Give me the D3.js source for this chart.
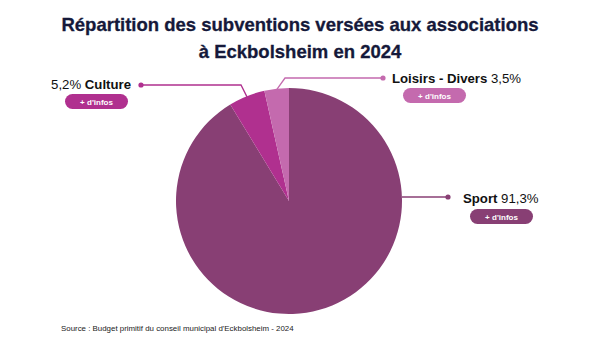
<!DOCTYPE html>
<html><head><meta charset="utf-8">
<script src="https://cdn.jsdelivr.net/npm/d3@7"></script>
<style>body{margin:0;background:#fff}svg{display:block}</style>
</head><body>
<script>
const categories = ["Sport", "Culture", "Loisirs - Divers"];
const values = [91.3, 5.2, 3.5];
const valueLabels = ["91,3%", "5,2%", "3,5%"];
const colors = ["#883f74", "#b0308f", "#c46aae"];
const titleLines = ["Répartition des subventions versées aux associations", "à Eckbolsheim en 2024"];
const sourceText = "Source : Budget primitif du conseil municipal d'Eckbolsheim - 2024";
const buttonText = "+ d'infos";

const W = 600, H = 338;
const svg = d3.select("body").append("svg").attr("width", W).attr("height", H);
const font = "Liberation Sans, Arial, sans-serif";

svg.selectAll("text.title").data(titleLines).join("text")
  .attr("x", 300).attr("y", (d, i) => 31 + i * 27)
  .attr("text-anchor", "middle").attr("font-family", font)
  .attr("font-weight", "bold").attr("font-size", 18.5).attr("fill", "#15193a")
  .attr("stroke", "#15193a").attr("stroke-width", 0.3)
  .text(d => d);

const cx = 289, cy = 201, R = 113;
const g = svg.append("g").attr("transform", `translate(${cx},${cy})`);
const pie = d3.pie().sort(null).value(d => d)(values);
const arc = d3.arc().innerRadius(0).outerRadius(R);
g.selectAll("path").data(pie).join("path")
  .attr("d", arc).attr("fill", (d, i) => colors[i]);

function edge(d, r) {
  const a = (d.startAngle + d.endAngle) / 2;
  return [cx + r * Math.sin(a), cy - r * Math.cos(a)];
}
const eC = edge(pie[1], R - 1), eL = edge(pie[2], R - 1);
const leaders = [
  {pts: [[cx + R, 197], [448, 197]], c: colors[0]},
  {pts: [eC, [241, 85], [141, 85]], c: colors[1]},
  {pts: [eL, [285, 78], [383, 78]], c: colors[2]}
];
const line = d3.line();
leaders.forEach(l => {
  svg.append("path").attr("d", line(l.pts)).attr("fill", "none")
    .attr("stroke", l.c).attr("stroke-width", 1.3);
  const p = l.pts[l.pts.length - 1];
  svg.append("circle").attr("cx", p[0]).attr("cy", p[1]).attr("r", 2.6).attr("fill", l.c);
});

function label(x, y, anchor, parts) {
  const t = svg.append("text").attr("x", x).attr("y", y).attr("text-anchor", anchor)
    .attr("font-family", font).attr("font-size", 13.2).attr("fill", "#111");
  parts.forEach(p => t.append("tspan").attr("font-weight", p.b ? "bold" : "normal").text(p.t));
}
label(131, 89, "end", [{t: valueLabels[1] + " "}, {t: categories[1], b: true}]);
label(392, 83, "start", [{t: categories[2], b: true}, {t: " " + valueLabels[2]}]);
label(463, 203, "start", [{t: categories[0], b: true}, {t: " " + valueLabels[0]}]);

function button(x, y, c) {
  svg.append("rect").attr("x", x).attr("y", y).attr("width", 63).attr("height", 15)
    .attr("rx", 7.5).attr("fill", c);
  svg.append("text").attr("x", x + 31.5).attr("y", y + 10.5).attr("text-anchor", "middle")
    .attr("font-family", font).attr("font-size", 8).attr("font-weight", "bold")
    .attr("fill", "#fff").text(buttonText);
}
button(65, 94, colors[1]);
button(403, 88, colors[2]);
button(470, 209, colors[0]);

svg.append("text").attr("x", 61).attr("y", 331).attr("font-family", font)
  .attr("font-size", 7.9).attr("fill", "#222").text(sourceText);
</script>
</body></html>
